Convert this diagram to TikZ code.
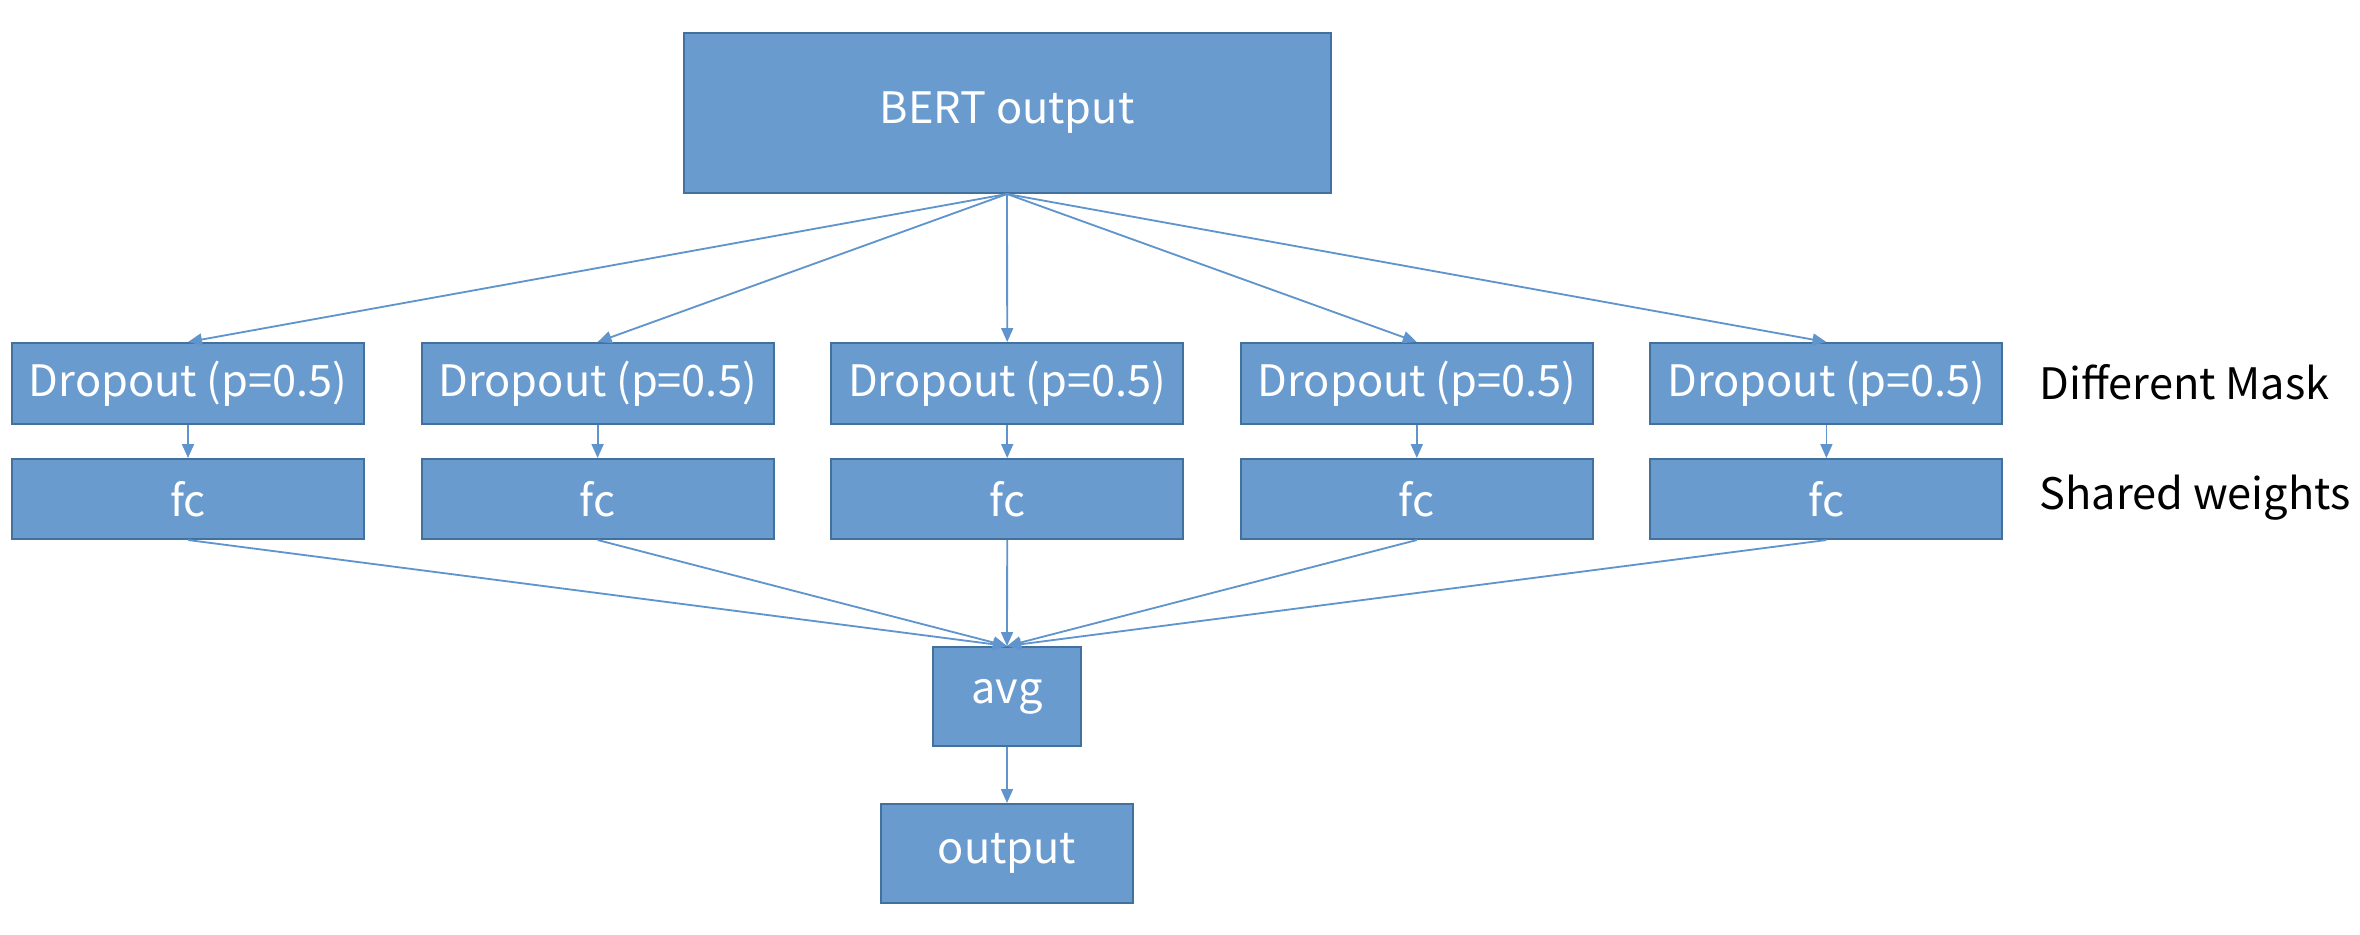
\documentclass[tikz,border=0pt]{standalone}
\usepackage{fontspec}
\setmainfont{Noto Sans CJK JP}
\usetikzlibrary{arrows.meta}
\definecolor{boxfill}{HTML}{6A9BCF}
\definecolor{boxline}{HTML}{41719C}
\definecolor{arrowc}{HTML}{5F95CC}
\tikzset{
  blk/.style={draw=boxline, fill=boxfill, line width=0.6pt, inner sep=0pt, text=white,
    font=\fontsize{13}{15}\selectfont},
  conn/.style={draw=arrowc, line width=0.55pt, -{Triangle[length=4.2pt,width=3.6pt]}},
  lbl/.style={anchor=west, inner sep=0pt, font=\fontsize{13}{15}\selectfont, text=black}
}
\begin{document}
\begin{tikzpicture}[x=0.3pt,y=-0.3pt]
\useasboundingbox (0,0) rectangle (2360,934);
\node[blk, minimum width=194.1pt, minimum height=48pt] (bert) at (1007,113) {BERT output};
\foreach \i in {0,...,4} {
  \node[blk, minimum width=105.6pt, minimum height=24.3pt] (d\i) at ({188+409.6*\i},383.5) {Dropout (p=0.5)};
  \node[blk, minimum width=105.6pt, minimum height=24pt] (f\i) at ({188+409.6*\i},499) {fc};
}
\node[blk, minimum width=44.4pt, minimum height=29.7pt] (avg) at (1007,696.5) {avg};
\node[blk, minimum width=75.6pt, minimum height=29.7pt] (out) at (1007,853.5) {output};
\node[lbl] (mask) at (2039,382) {Different Mask};
\node[lbl] (shared) at (2039,498) {Shared weights};
\foreach \i in {0,...,4} {
  \draw[conn] (bert.south) -- (d\i.north);
  \draw[conn] (d\i.south) -- (f\i.north);
  \draw[conn] (f\i.south) -- (avg.north);
}
\draw[conn] (avg.south) -- (out.north);
\end{tikzpicture}
\end{document}
